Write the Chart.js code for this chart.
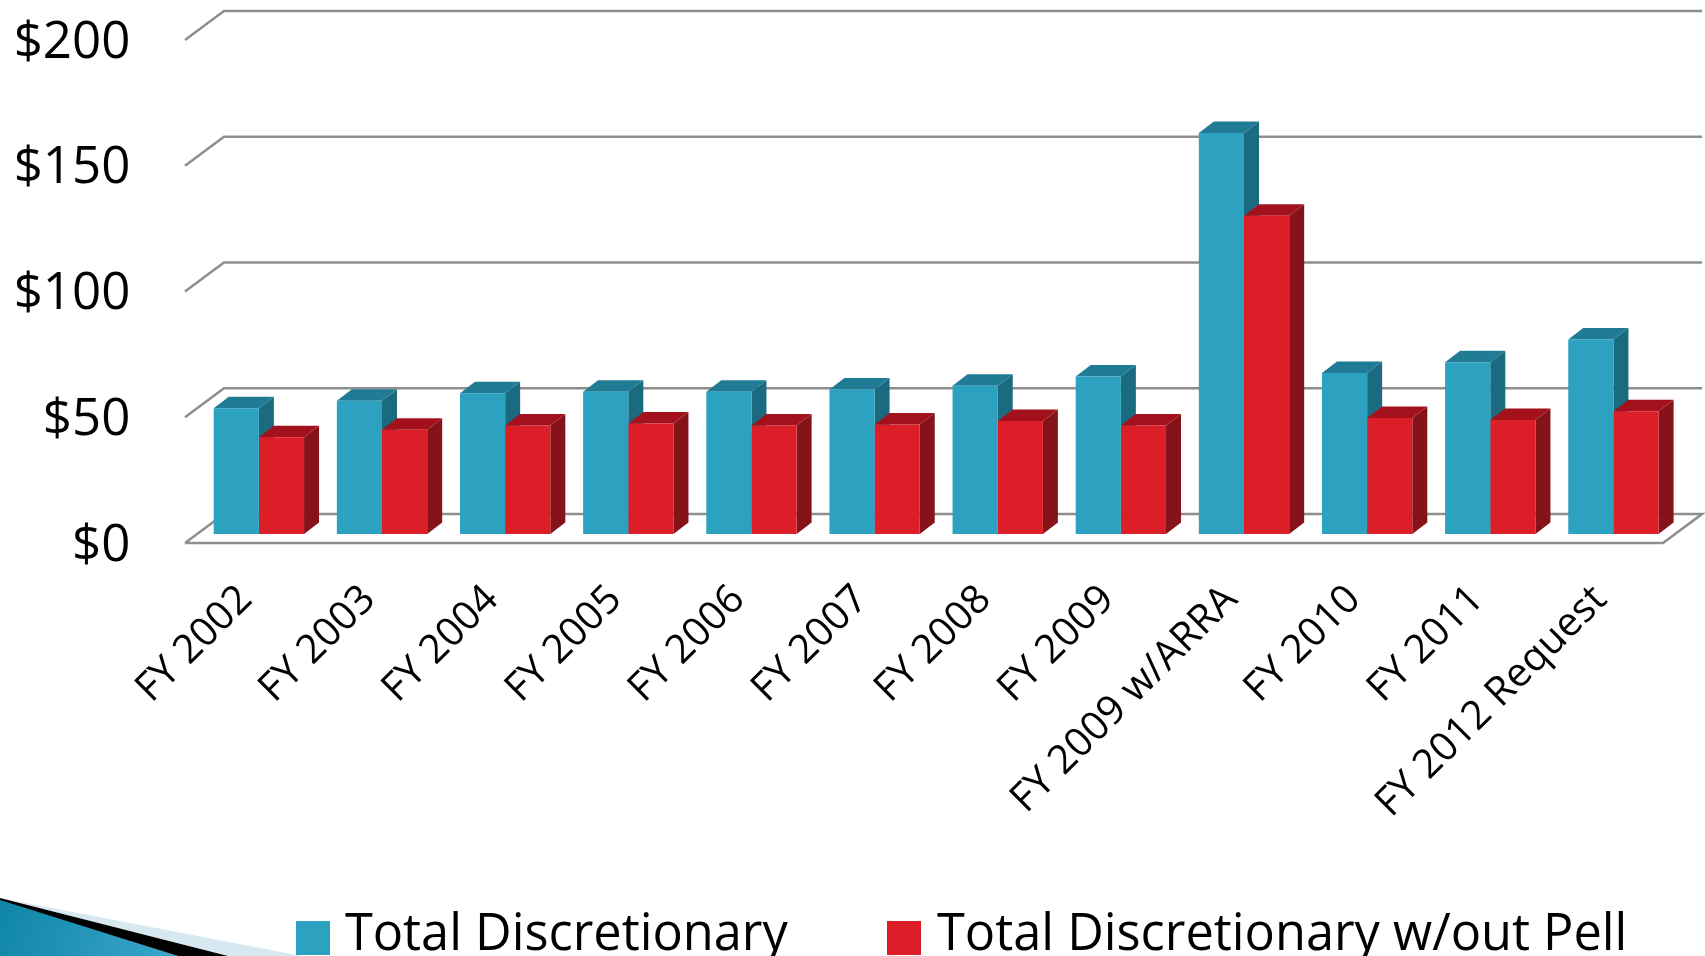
<!DOCTYPE html>
<html><head><meta charset="utf-8">
<style>html,body{margin:0;padding:0;background:#fff;overflow:hidden}canvas{display:block}</style>
<script src="https://cdn.jsdelivr.net/npm/chart.js@4/dist/chart.umd.js"></script>
</head><body><canvas id="c" width="1705" height="956"></canvas>
<script>
const categories=["FY 2002","FY 2003","FY 2004","FY 2005","FY 2006","FY 2007","FY 2008","FY 2009","FY 2009 w/ARRA","FY 2010","FY 2011","FY 2012 Request"];
const totalDiscretionary=[50,53,56,56.6,56.6,57.5,59,62.7,159.5,64,68.3,77.4];
const totalWithoutPell=[38.5,41.5,43.2,44,43.2,43.6,45,43.2,126.6,46.2,45.4,48.8];
const seriesNames=["Total Discretionary","Total Discretionary w/out Pell"];
const yTicks=[0,50,100,150,200];
const FONT='"Open Sans"';
const DX=15,DY=-11.5;
const colors=[{front:'#2CA1C0',top:'#1F7C94',side:'#1A6A80'},{front:'#DC1E28',top:'#A3121C',side:'#86131A'}];

function poly(ctx,pts,fill){ctx.fillStyle=fill;ctx.beginPath();pts.forEach((p,i)=>i?ctx.lineTo(p[0],p[1]):ctx.moveTo(p[0],p[1]));ctx.closePath();ctx.fill();}

const scene={id:'scene',
 afterLayout(chart){const l=chart.legend;l.left+=119;l.right+=119;l.top=820.5;chart.scales.x.bottom=956;},
 beforeDraw(chart){const c=chart.ctx;c.save();
  poly(c,[[0,898],[302,956],[228,956]],'#D6E9F1');
  const g=c.createLinearGradient(0,900,178,956);g.addColorStop(0,'#0F86A6');g.addColorStop(1,'#3BA6CC');
  poly(c,[[0,899],[178,956],[0,956]],g);
  poly(c,[[0,898],[228,956],[178,956],[0,900]],'#000');
  c.restore();},
 beforeDatasetsDraw(chart){const c=chart.ctx,y=chart.scales.y;c.save();
  c.strokeStyle='#8E8E8E';c.lineWidth=2.5;
  const xs=[185,224,1702,1663],back=-20,front=9;
  yTicks.forEach(v=>{const p=y.getPixelForValue(v);c.beginPath();c.moveTo(xs[0],p+front);c.lineTo(xs[1],p+back);c.lineTo(xs[2],p+back);
   if(v===0){c.lineTo(xs[3],p+front);c.lineTo(xs[0],p+front);}c.stroke();});
  chart.data.datasets.forEach((ds,i)=>{chart.getDatasetMeta(i).data.forEach(b=>{
   const l=b.x-b.width/2,r=b.x+b.width/2,t=b.y,bt=b.base,col=colors[i];
   poly(c,[[r,t],[r+DX,t+DY],[r+DX,bt+DY],[r,bt]],col.side);
   poly(c,[[l,t],[l+DX,t+DY],[r+DX,t+DY],[r,t]],col.top);
  });});
  c.restore();},
 afterDraw(chart){const c=chart.ctx,l=chart.legend;c.save();
  l.legendHitBoxes.forEach((h,i)=>{c.fillStyle=colors[i].front;c.fillRect(i?887:296,921,34,34);});
  c.restore();}
};

new Chart(document.getElementById('c'),{type:'bar',
 data:{labels:categories,datasets:[
  {label:seriesNames[0],data:totalDiscretionary,backgroundColor:colors[0].front},
  {label:seriesNames[1],data:totalWithoutPell,backgroundColor:colors[1].front}]},
 options:{responsive:false,animation:false,
  layout:{padding:{top:31,right:30,left:0,bottom:0}},
  datasets:{bar:{categoryPercentage:0.7336,barPercentage:1}},
  scales:{
   x:{grid:{display:false},border:{display:false},
    ticks:{color:'#000',font:{family:FONT,size:40},minRotation:45,maxRotation:45,autoSkip:false,padding:34,labelOffset:-13},
    afterFit(s){s.height=271.4;}},
   y:{min:0,max:200,grid:{display:false,drawTicks:false},border:{display:false},
    afterBuildTicks(s){s.ticks=yTicks.map(v=>({value:v}));},
    ticks:{color:'#000',font:{family:FONT,size:51},padding:67,labelOffset:12,callback:v=>'$'+v},
    afterFit(s){s.width=197.3;s.paddingTop=0;s.paddingBottom=0;}}
  },
  plugins:{tooltip:{enabled:false},title:{display:false},
   legend:{position:'bottom',labels:{color:'#000',font:{family:FONT,size:50.5},boxWidth:34,boxHeight:34,padding:90,
    generateLabels(ch){return ch.data.datasets.map((d,i)=>({text:d.label,fillStyle:'rgba(0,0,0,0)',strokeStyle:'rgba(0,0,0,0)',lineWidth:0,datasetIndex:i}));}}}}
 },
 plugins:[scene]});
</script></body></html>
